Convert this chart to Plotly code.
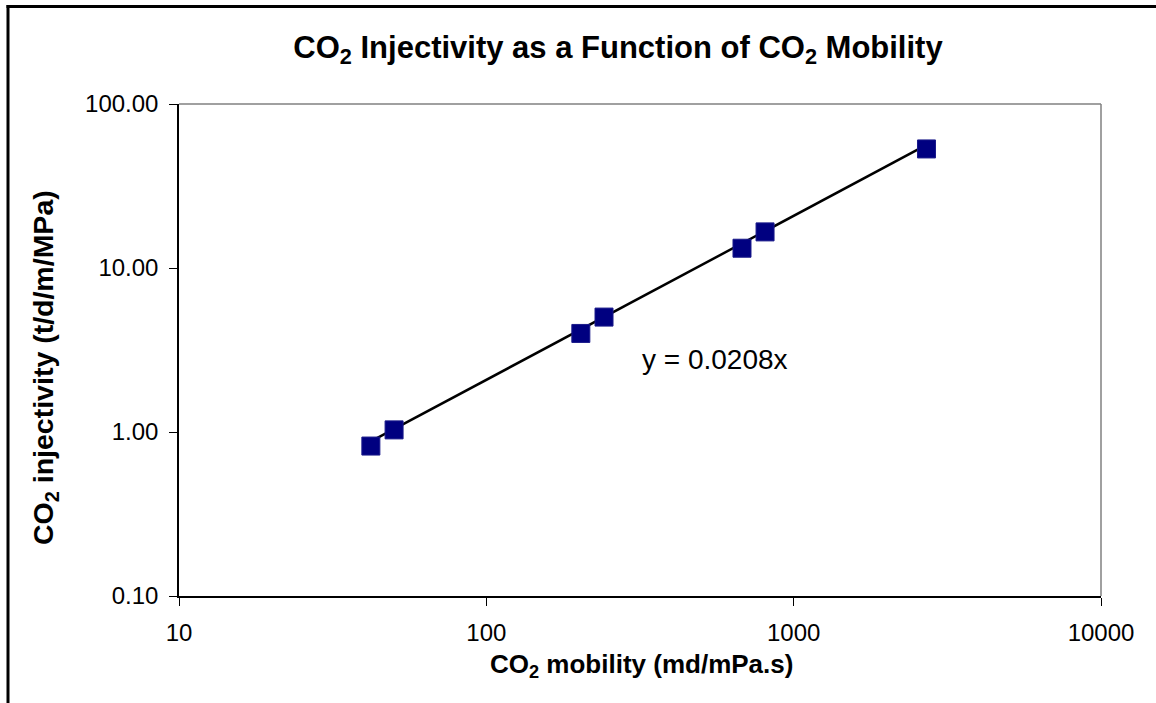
import plotly.graph_objects as go

# CO2 mobility (md/mPa.s) and measured injectivity (t/d/m/MPa)
mobility = [42.1, 50.1, 203, 241.5, 679, 807, 2705]
injectivity = [0.821, 1.03, 3.99, 5.02, 13.2, 16.6, 53.2]

# trendline y = slope * x, forced through the origin
slope = 0.0208
trend_x = [min(mobility), max(mobility)]
trend_y = [slope * v for v in trend_x]

x_ticks = [10, 100, 1000, 10000]
x_ticktext = ["10", "100", "1000", "10000"]
y_ticks = [0.1, 1, 10, 100]
y_ticktext = ["0.10", "1.00", "10.00", "100.00"]

W, H = 1156, 703
L, R, T, B = 179, 55, 104, 107
pw, ph = W - L - R, H - T - B


def px_x(p):
    return (p - L) / pw


def px_y(p):
    return (H - B - p) / ph


FONT = "Liberation Sans, Arial, sans-serif"

fig = go.Figure()
fig.add_trace(go.Scatter(
    x=trend_x, y=trend_y, mode="lines",
    line=dict(color="black", width=2.5), hoverinfo="skip", showlegend=False))
fig.add_trace(go.Scatter(
    x=mobility, y=injectivity, mode="markers",
    marker=dict(symbol="square", size=18, color="#000080",
                line=dict(color="#1a1a8a", width=1)),
    showlegend=False))

axis_common = dict(
    type="log", showgrid=False, zeroline=False,
    showline=True, linecolor="black", linewidth=1.5, mirror=False,
    ticks="outside", ticklen=8, tickcolor="black", tickwidth=1,
    tickfont=dict(family=FONT, size=24, color="black"),
)

fig.update_layout(
    width=W, height=H,
    margin=dict(l=L, r=R, t=T, b=B),
    paper_bgcolor="white", plot_bgcolor="white",
    xaxis=dict(range=[1, 4], tickvals=x_ticks, ticktext=x_ticktext,
               ticklabelstandoff=6, **axis_common),
    yaxis=dict(range=[-1, 2], tickvals=y_ticks, ticktext=y_ticktext,
               ticklabelstandoff=6, **axis_common),
    title=dict(
        text="CO<sub>2</sub> Injectivity as a Function of CO<sub>2</sub> Mobility",
        font=dict(family=FONT, size=31, color="black", weight="bold"),
        x=618 / W, xanchor="center", y=1 - 47 / H, yanchor="middle",
        xref="container", yref="container"),
    showlegend=False,
)

# axis titles and the trendline equation
fig.add_annotation(
    text="<b>CO<sub>2</sub> mobility (md/mPa.s)</b>",
    xref="paper", yref="paper", x=px_x(641), y=px_y(665),
    showarrow=False, font=dict(family=FONT, size=26, color="black"),
    xanchor="center", yanchor="middle")
fig.add_annotation(
    text="<b>CO<sub>2</sub> injectivity (t/d/m/MPa)</b>",
    xref="paper", yref="paper", x=px_x(45), y=px_y(368), textangle=-90,
    showarrow=False, font=dict(family=FONT, size=28.5, color="black"),
    xanchor="center", yanchor="middle")
fig.add_annotation(
    text="y = 0.0208x",
    xref="paper", yref="paper", x=px_x(715), y=px_y(359),
    showarrow=False, font=dict(family=FONT, size=28, color="black"),
    xanchor="center", yanchor="middle")

# grey top/right edges of the plot frame
fig.add_shape(type="line", xref="paper", yref="paper", x0=0, x1=1, y0=1, y1=1,
              line=dict(color="#808080", width=1.5))
fig.add_shape(type="line", xref="paper", yref="paper", x0=1, x1=1, y0=0, y1=1,
              line=dict(color="#808080", width=1.5))

# outer chart border (left and top)
fig.add_shape(type="line", xref="paper", yref="paper",
              x0=px_x(8), x1=px_x(8), y0=px_y(5), y1=px_y(H + 5),
              line=dict(color="black", width=3))
fig.add_shape(type="line", xref="paper", yref="paper",
              x0=px_x(6.5), x1=px_x(W + 5), y0=px_y(6.5), y1=px_y(6.5),
              line=dict(color="black", width=3))

fig.write_html("out.html")
